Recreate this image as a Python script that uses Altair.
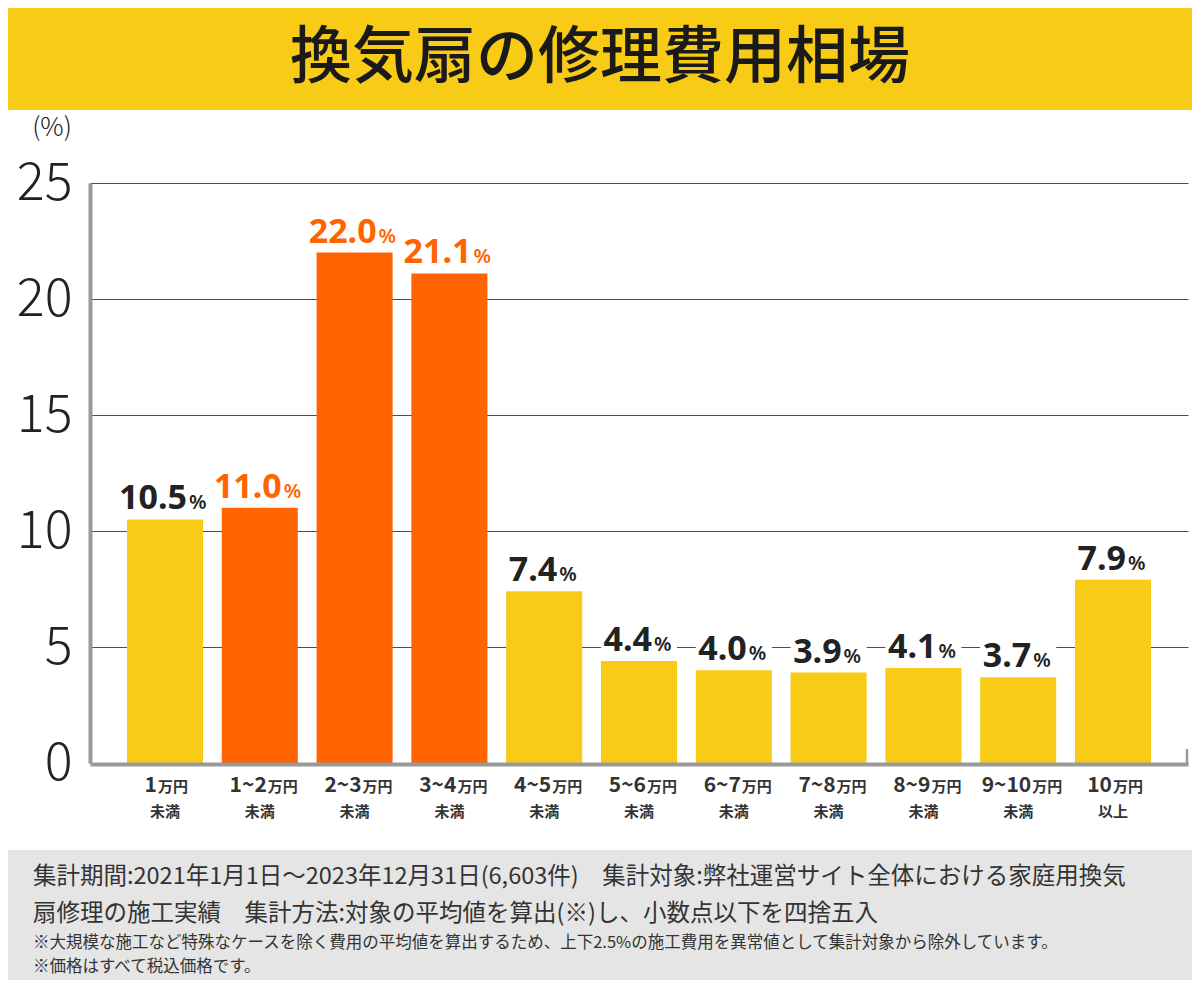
import altair as alt
import pandas as pd

# ---- data ----
CAT_NUM = ["1", "1~2", "2~3", "3~4", "4~5", "5~6", "6~7", "7~8", "8~9", "9~10", "10"]
CAT_UNIT = ["万円"] * 11
CAT_SUB = ["未満"] * 10 + ["以上"]
VALUES = [10.5, 11.0, 22.0, 21.1, 7.4, 4.4, 4.0, 3.9, 4.1, 3.7, 7.9]
HIGHLIGHT = ["lo", "hi", "hi", "hi", "lo", "lo", "lo", "lo", "lo", "lo", "lo"]
Y_TICKS = [0, 5, 10, 15, 20, 25]
TITLE = "換気扇の修理費用相場"
Y_UNIT = "(%)"
NOTE1 = "集計期間:2021年1月1日～2023年12月31日(6,603件)　集計対象:弊社運営サイト全体における家庭用換気"
NOTE2 = "扇修理の施工実績　集計方法:対象の平均値を算出(※)し、小数点以下を四捨五入"
NOTE3 = "※大規模な施工など特殊なケースを除く費用の平均値を算出するため、上下2.5%の施工費用を異常値として集計対象から除外しています。"
NOTE4 = "※価格はすべて税込価格です。"

df = pd.DataFrame({
    "cat": [n + u + s for n, u, s in zip(CAT_NUM, CAT_UNIT, CAT_SUB)],
    "num": CAT_NUM,
    "unit": CAT_UNIT,
    "sub": CAT_SUB,
    "value": VALUES,
    "grp": HIGHLIGHT,
})

YELLOW = "#F8CB16"
ORANGE = "#FF6400"
DARK = "#222222"
JP = "Noto Sans CJK JP"
LAT = "Noto Sans"

W, H = 1098, 580

X = alt.X("cat:N", sort=None,
          scale=alt.Scale(paddingInner=0.198, paddingOuter=0.39),
          axis=alt.Axis(labels=False, ticks=False, title=None, grid=False,
                        domainWidth=4, domainColor="#999999", offset=1))
Y = alt.Y("value:Q",
          scale=alt.Scale(domain=[0, 25], nice=False, zero=True),
          axis=alt.Axis(values=Y_TICKS, title=None, ticks=False, labelPadding=18,
                        labelFontSize=52, labelFont=JP, labelFontWeight=300,
                        labelColor=DARK, domainWidth=4, domainColor="#999999",
                        gridColor="#4d4d4d", gridWidth=1.2))

base = alt.Chart(df)

whiteback = base.mark_rect(color="white").transform_calculate(
    lab_top="datum.value + 1.7"
).encode(x=X, y=Y, y2="lab_top:Q")

bars = base.mark_bar().encode(
    x=X, y=Y,
    color=alt.condition("datum.grp === 'hi'", alt.value(ORANGE), alt.value(YELLOW)),
)

lab_color = alt.condition("datum.grp === 'hi'", alt.value(ORANGE), alt.value(DARK))

def value_labels(filt, dx):
    num = base.mark_text(align="right", baseline="alphabetic", font=LAT, fontWeight="bold",
                         fontSize=34, dx=dx, dy=-10).transform_filter(filt).encode(
        x=X, y=Y, text=alt.Text("value:Q", format=".1f"), color=lab_color)
    pct = base.mark_text(align="left", baseline="alphabetic", font=LAT, fontWeight=600,
                         fontSize=20, dx=dx + 2, dy=-10).transform_filter(filt).encode(
        x=X, y=Y, text=alt.value("%"), color=lab_color)
    return [num, pct]

lab_layers = value_labels("datum.value >= 10", 22) + value_labels("datum.value < 10", 13)

def cat_labels(n, dx):
    filt = "length(datum.num) == %d" % n
    a = base.mark_text(align="right", baseline="alphabetic", font=JP, fontWeight="bold",
                       fontSize=21, color="#333333", dx=dx).transform_filter(filt).encode(
        x=X, y=alt.value(H + 29), text="num:N")
    b = base.mark_text(align="left", baseline="alphabetic", font=JP, fontWeight="bold",
                       fontSize=15, color="#333333", dx=dx + 1).transform_filter(filt).encode(
        x=X, y=alt.value(H + 29), text="unit:N")
    return [a, b]

cat_layers = cat_labels(1, -8) + cat_labels(2, -1) + cat_labels(3, 7) + cat_labels(4, 13)
sub_layer = base.mark_text(align="center", baseline="middle", font=JP, fontWeight="bold",
                           fontSize=15, color="#333333").encode(
    x=X, y=alt.value(H + 49), text="sub:N")

one = alt.Chart(pd.DataFrame({"t": [TITLE]}))

title_band = one.mark_rect(color=YELLOW).encode(
    x=alt.value(-82), x2=alt.value(1102), y=alt.value(-175), y2=alt.value(-73))
title_text = one.mark_text(font=JP, fontWeight=500, fontSize=62, color="#1a1a1a",
                           align="center", baseline="middle").encode(
    x=alt.value(510), y=alt.value(-124), text="t:N")

yunit = alt.Chart(pd.DataFrame({"t": [Y_UNIT]})).mark_text(
    font=JP, fontWeight=300, fontSize=26, color=DARK, align="center", baseline="middle"
).encode(x=alt.value(-38), y=alt.value(-55), text="t:N")

tick_right = one.mark_rule(color="#999999", strokeWidth=2.5).encode(
    x=alt.value(W - 1), y=alt.value(H - 14), y2=alt.value(H + 3))

note_band = one.mark_rect(color="#E5E5E5").encode(
    x=alt.value(-82), x2=alt.value(1102), y=alt.value(667), y2=alt.value(800))

def note(txt, ypos, size):
    return alt.Chart(pd.DataFrame({"t": [txt]})).mark_text(
        font=JP, fontSize=size, color="#333333", align="left", baseline="middle"
    ).encode(x=alt.value(-57), y=alt.value(ypos), text="t:N")

notes = [note(NOTE1, 694, 23.5), note(NOTE2, 731, 23.5), note(NOTE3, 760, 16.5), note(NOTE4, 784, 16.5)]

chart = alt.layer(
    title_band, note_band, whiteback, bars, *lab_layers, *cat_layers, sub_layer,
    title_text, yunit, tick_right, *notes
).properties(
    width=W, height=H,
    padding={"left": 82, "top": 175, "right": 4, "bottom": 217},
    autosize=alt.AutoSizeParams(type="none"),
).configure_view(stroke=None)

chart.save("out.html", embed_options={"renderer": "svg", "actions": False})
